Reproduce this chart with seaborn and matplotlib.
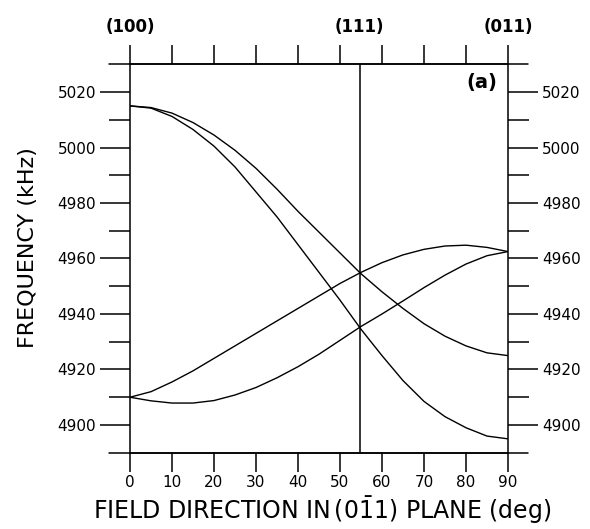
import numpy as np
import pandas as pd
import matplotlib
matplotlib.use("Agg")
import matplotlib.pyplot as plt
import seaborn as sns
import matplotlib.transforms as mtransforms

# ---- data ----
angle_deg = [0, 5, 10, 15, 20, 25, 30, 35, 40, 45, 50, 55, 60, 65, 70, 75, 80, 85, 90]
curve_a = [5015, 5014.4, 5012.4, 5009, 5004.5, 4999, 4992.5, 4985, 4977, 4969.5,
           4962, 4954.5, 4948, 4942, 4936.5, 4932, 4928.5, 4926, 4925]
curve_b = [5015, 5014.2, 5011.2, 5006.5, 5000.5, 4993, 4984, 4975, 4965, 4955,
           4945, 4934.5, 4925, 4916, 4908.5, 4903, 4899, 4896, 4895]
curve_c = [4910, 4912, 4915.5, 4919.5, 4924, 4928.5, 4933, 4937.5, 4942, 4946.5,
           4951, 4955, 4958.5, 4961.3, 4963.3, 4964.5, 4964.8, 4964, 4962.5]
curve_d = [4910, 4908.7, 4907.9, 4907.9, 4908.8, 4910.8, 4913.5, 4917, 4921, 4925.5,
           4930.5, 4935.5, 4940, 4944.7, 4949.5, 4954, 4958, 4961, 4962.5]
curve_names = ["A", "B", "C", "D"]

x_ticks = [0, 10, 20, 30, 40, 50, 60, 70, 80, 90]
y_ticks = [4900, 4920, 4940, 4960, 4980, 5000, 5020]
y_minor_ticks = [4910, 4930, 4950, 4970, 4990, 5010]
direction_pos = [0, 54.7, 90]
direction_labels = ["(100)", "(111)", "(011)"]
x_label = r"FIELD DIRECTION IN$\,$(0$\bar{1}$1) PLANE (deg)"
y_label = "FREQUENCY (kHz)"
panel_label = "(a)"

# ---- build table ----
frames = []
for name, vals in zip(curve_names, [curve_a, curve_b, curve_c, curve_d]):
    frames.append(pd.DataFrame({"angle": angle_deg, "freq": vals, "curve": name}))
df = pd.concat(frames, ignore_index=True)

sns.set_style("ticks")
plt.rcParams["font.family"] = ["DejaVu Sans"]
plt.rcParams["mathtext.fontset"] = "dejavusans"
plt.rcParams["text.color"] = "black"
plt.rcParams["axes.labelcolor"] = "black"
plt.rcParams["xtick.color"] = "black"
plt.rcParams["ytick.color"] = "black"

fig = plt.figure(figsize=(5.9, 5.29), dpi=100)
ax = fig.add_axes([0.2203, 0.1442, 0.6407, 0.7343])

sns.lineplot(data=df, x="angle", y="freq", hue="curve",
             palette=["black"] * 4, legend=False, linewidth=1.0, ax=ax,
             estimator=None, sort=True)

# vertical line at (111)
ax.axvline(direction_pos[1], color="black", linewidth=1.1)

ax.set_xlim(0, 90)
ax.set_ylim(4890, 5030)

ax.set_xticks(x_ticks)
ax.set_yticks(y_ticks)
ax.set_yticks(y_minor_ticks, minor=True)

for s in ax.spines.values():
    s.set_linewidth(1.1)
    s.set_color("black")

ax.tick_params(axis="x", which="major", direction="out", length=14, width=1.1,
               top=True, bottom=True, labeltop=False, labelsize=11, pad=2,
               colors="black")
ax.tick_params(axis="y", which="major", direction="out", length=21.5, width=1.1,
               left=True, right=True, labelleft=True, labelright=True,
               labelsize=11, pad=3, colors="black")
ax.tick_params(axis="y", which="minor", direction="out", length=15, width=1.1,
               left=True, right=True, colors="black")

# extended top/bottom frame lines
for yy in (0, 1):
    ax.plot([-0.056, 1.053], [yy, yy], transform=ax.transAxes, color="black",
            linewidth=1.1, clip_on=False)

# crystal directions on top
trans = mtransforms.blended_transform_factory(ax.transData, ax.transAxes)
offset = mtransforms.ScaledTranslation(0, 20 / 72, fig.dpi_scale_trans)
for xp, lab in zip(direction_pos, direction_labels):
    ax.text(xp, 1.0, lab, transform=trans + offset, ha="center", va="bottom",
            fontsize=12, fontweight="bold", color="black")

ax.text(0.931, 0.952, panel_label, transform=ax.transAxes, ha="center", va="center",
        fontsize=14, fontweight="bold", color="black")

ax.set_xlabel(x_label, fontsize=17, color="black")
ax.set_ylabel(y_label, fontsize=16, color="black")
ax.xaxis.set_label_coords(0.508, -0.148)
ax.yaxis.set_label_coords(-0.27, 0.527)
ax.xaxis.label.set_va("center")
ax.yaxis.label.set_va("center")

fig.savefig("out.png", dpi=100)
